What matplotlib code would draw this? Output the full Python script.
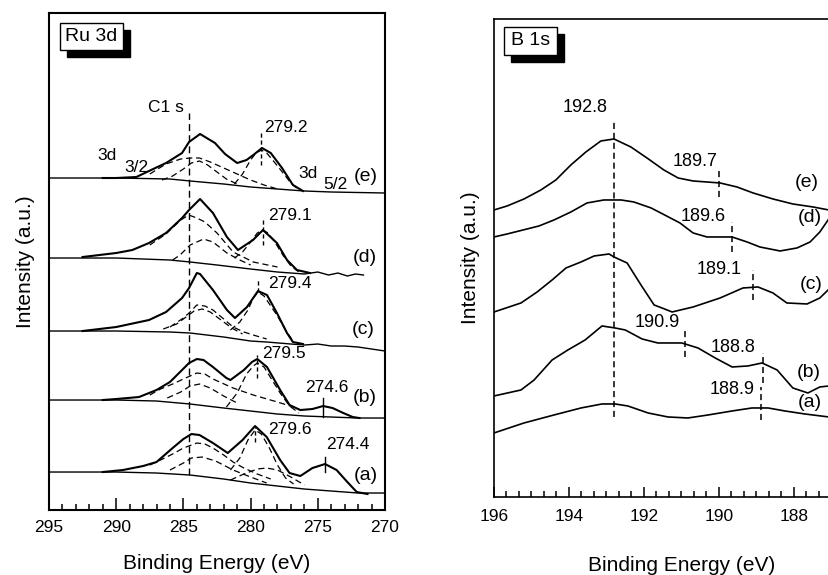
import matplotlib
matplotlib.use("Agg")
import matplotlib.pyplot as plt
from matplotlib.ticker import MultipleLocator, FixedLocator
from matplotlib.patches import Rectangle

plt.rcParams['font.family'] = ['Liberation Sans', 'DejaVu Sans']

# ---------------- Ru 3d panel (binding energy eV, intensity a.u.) ----------------
# background / raw data lines
bg_e_x = [295, 290, 286, 284.5, 282, 280, 278, 276, 274, 272, 270]
bg_e_y = [332, 332, 331, 329, 326, 323, 321, 319, 318, 317.5, 317]
env_e_x = [291.0, 290.0, 288.5, 287.56, 286.29, 285.1, 284.58, 283.76, 282.65, 281.9,
           281.0, 280.3, 279.8, 279.15, 278.5, 277.66, 276.85, 276.1]
env_e_y = [332, 332, 333, 339, 347, 357, 368, 376, 367, 356, 347, 350, 355, 362, 357, 342, 325, 319]
dA_e_x = [287.5, 286.3, 285.2, 284.5, 283.8, 283.0, 282.0, 281.0, 280.0, 279.0, 278.0]
dA_e_y = [336, 346, 351, 352, 352, 348, 342, 336, 330, 325, 321]
dB_e_x = [286.6, 285.8, 285.0, 284.4, 283.8, 283.2, 282.5, 281.8, 281.0]
dB_e_y = [330, 334, 341, 347, 349, 345, 338, 331, 326]
dC_e_x = [281.2, 280.6, 280.0, 279.6, 279.2, 278.8, 278.3, 277.7, 277.0, 276.4]
dC_e_y = [326, 336, 350, 357, 360, 357, 349, 339, 327, 320]

bg_d_x = [295, 290, 286, 284.5, 282.5, 280, 278, 276, 275, 274.2, 273.5, 272.8, 272.2, 271.6]
bg_d_y = [252, 252, 250, 248, 245, 241, 238, 236, 238, 235, 237, 234, 236, 235]
env_d_x = [292.5, 290.0, 288.8, 287.56, 286.29, 285.1, 284.58, 283.76, 282.8, 281.76,
           280.94, 279.82, 279.08, 278.04, 277.29, 276.55, 275.58]
env_d_y = [253, 257, 260, 267, 277, 292, 300, 311, 297, 273, 260, 270, 280, 267, 250, 240, 237]
dA_d_x = [287.5, 286.3, 285.2, 284.6, 284.0, 283.4, 282.5, 281.3, 279.8, 278.0]
dA_d_y = [265, 276, 290, 295, 292, 288, 277, 258, 248, 243]
dB_d_x = [285.8, 285.25, 284.5, 283.5, 282.8, 281.76, 280.8, 280.0]
dB_d_y = [250, 255, 265, 271, 268, 257, 250, 245]
dC_d_x = [281.2, 280.6, 280.0, 279.5, 279.1, 278.7, 278.2, 277.6, 277.0, 276.4]
dC_d_y = [252, 258, 268, 277, 280, 277, 268, 255, 244, 238]

bg_c_x = [295, 290, 286, 284.5, 282, 280, 278.8, 277, 276, 275, 274, 273, 272, 271, 270]
bg_c_y = [179, 179, 178, 177, 173, 169, 168, 166, 165, 166, 164, 164, 163, 161, 159]
env_c_x = [292.5, 290.0, 287.56, 286.29, 285.1, 284.58, 284.0, 283.76, 282.8, 281.76,
           281.16, 280.27, 279.45, 278.78, 278.04, 277.29, 276.85, 276.1]
env_c_y = [179, 183, 190, 198, 212, 222, 237, 236, 220, 200, 192, 203, 219, 215, 197, 177, 168, 166]
dA_c_x = [286.0, 285.0, 284.5, 284.0, 283.4, 282.8, 282.0, 281.3, 280.5, 279.8, 278.8]
dA_c_y = [183, 192, 198, 205, 204, 200, 191, 183, 178, 175, 171]
dB_c_x = [286.5, 285.5, 284.8, 284.2, 283.6, 283.0, 282.2, 281.4, 280.6]
dB_c_y = [181, 186, 193, 199, 201, 198, 190, 182, 176]
dC_c_x = [281.5, 280.8, 280.2, 279.8, 279.45, 279.0, 278.5, 278.0, 277.4, 276.8]
dC_c_y = [180, 188, 200, 212, 218, 214, 204, 194, 180, 168]

bg_b_x = [295, 290, 287, 284.5, 282, 280, 278, 276, 274, 272, 270]
bg_b_y = [110, 110, 109, 106, 102, 99, 96, 94, 93, 92, 92]
env_b_x = [291.0, 290.0, 288.3, 287.0, 286.0, 285.1, 284.58, 284.0, 283.5, 282.8, 281.8,
           281.5, 280.5, 279.9, 279.5, 278.78, 277.8, 277.1, 276.3, 275.4, 274.6, 273.9,
           273.1, 272.4, 271.9]
env_b_y = [110, 111, 113, 120, 128, 140, 147, 151, 150, 143, 132, 130, 140, 148, 151, 143,
           120, 105, 100, 101, 104, 102, 97, 93, 92]
dA_b_x = [287.5, 286.7, 285.8, 285.0, 284.0, 283.4, 282.8, 281.3, 279.8, 278.0, 276.8]
dA_b_y = [115, 121, 126, 131, 137, 136, 131, 122, 115, 108, 103]
dB_b_x = [286.2, 285.2, 284.5, 283.8, 283.0, 282.0, 281.0]
dB_b_y = [112, 118, 124, 126, 122, 114, 107]
dC_b_x = [281.8, 281.0, 280.3, 279.8, 279.5, 279.0, 278.4, 277.8, 277.1, 276.4]
dC_b_y = [103, 117, 136, 144, 147, 143, 130, 117, 104, 97]

bg_a_x = [295, 290, 287, 284.5, 282, 280, 278, 276, 274, 272, 270]
bg_a_y = [38, 38, 37, 35, 31, 27, 24, 21, 19, 17, 17]
env_a_x = [291.0, 289.5, 288.0, 287.0, 285.8, 285.0, 284.4, 283.8, 282.8, 281.7, 280.6,
           279.67, 278.8, 277.8, 277.1, 276.3, 275.4, 274.46, 273.6, 272.8, 272.1, 271.3]
env_a_y = [38, 40, 44, 48, 62, 71, 76, 75, 67, 57, 70, 84, 73, 50, 37, 34, 42, 46, 40, 28, 18, 16]
dA_a_x = [287.5, 286.7, 285.8, 285.0, 284.0, 283.4, 282.8, 282.0, 281.3, 280.5, 279.5, 278.5]
dA_a_y = [45, 50, 56, 62, 67, 66, 62, 55, 48, 42, 36, 31]
dB_a_x = [286.0, 285.0, 284.4, 283.6, 282.6, 281.3, 280.0, 278.8]
dB_a_y = [40, 47, 52, 53, 49, 40, 33, 27]
dC_a_x = [281.5, 280.8, 280.2, 279.67, 279.2, 278.6, 278.0, 277.4, 276.8]
dC_a_y = [40, 52, 70, 80, 76, 62, 45, 32, 26]
dD_a_x = [281.5, 280.5, 279.5, 278.8, 278.0, 277.0, 276.0]
dD_a_y = [30, 36, 41, 42, 40, 33, 25]

ru_labels = ["279.2", "279.1", "279.4", "279.5", "274.6", "279.6", "274.4"]
ru_label_x = [277.4, 277.1, 277.1, 277.5, 274.3, 277.1, 272.8]
ru_label_y = [383, 295, 227, 157, 123, 81, 66]
ru_mark_x = [279.2, 279.1, 279.45, 279.5, 274.6, 279.67, 274.46]
ru_mark_lo = [345, 265, 218, 132, 93, 68, 38]
ru_mark_hi = [377, 292, 230, 155, 112, 83, 53]
ru_mark_ls = ['--', '--', '--', '--', '-', '--', '-']
ru_names = ["(e)", "(d)", "(c)", "(b)", "(a)"]
ru_name_x = [271.4, 271.5, 271.6, 271.5, 271.4]
ru_name_y = [334, 253, 181, 113, 35]

# ---------------- B 1s panel ----------------
b_e_x = [196.0, 195.65, 195.2, 194.75, 194.35, 193.95, 193.55, 193.15, 192.8, 192.35, 191.92,
         191.47, 191.09, 190.69, 189.97, 189.52, 189.09, 188.56, 188.03, 187.49, 187.07, 186.8]
b_e_y = [287, 291, 298, 307, 317, 332, 345, 356, 358, 350, 339, 327, 319, 316, 314, 310, 304,
         298, 293, 290, 287, 285]
b_d_x = [196.0, 195.65, 194.8, 194.4, 193.95, 193.52, 193.07, 192.61, 192.27, 191.81, 191.5,
         191.04, 190.69, 190.32, 189.65, 189.25, 188.91, 188.37, 187.92, 187.57, 187.31, 187.09, 186.9]
b_d_y = [260, 263, 271, 277, 285, 294, 297, 297, 295, 289, 283, 274, 264, 260, 260, 255, 250,
         246, 249, 255, 265, 277, 290]
b_c_x = [196.0, 195.28, 194.85, 194.45, 194.08, 193.68, 193.33, 192.93, 192.8, 192.45, 192.08,
         191.73, 191.52, 191.25, 190.69, 189.97, 189.36, 188.96, 188.56, 188.19, 187.65, 187.31,
         187.09, 186.9]
b_c_y = [185, 194, 205, 217, 229, 235, 241, 243, 240, 234, 212, 192, 189, 185, 190, 199, 209,
         210, 204, 194, 193, 199, 207, 212]
b_b_x = [196.0, 195.28, 194.93, 194.45, 194.03, 193.57, 193.12, 192.77, 192.5, 192.05, 191.63,
         190.99, 190.56, 190.1, 189.65, 189.23, 188.85, 188.45, 188.03, 187.63, 187.31, 187.07]
b_b_y = [101, 107, 117, 137, 147, 157, 171, 169, 167, 158, 154, 154, 149, 139, 130, 131, 134,
         127, 109, 104, 110, 111]
b_a_x = [196.0, 195.2, 194.4, 193.68, 193.12, 192.77, 192.43, 191.89, 191.36, 190.83, 190.29,
         189.65, 189.12, 188.69, 188.24, 187.71, 187.07]
b_a_y = [64, 74, 82, 89, 93, 93, 91, 84, 80, 79, 82, 86, 89, 89, 86, 83, 80]

b_labels = ["192.8", "189.7", "189.6", "189.1", "190.9", "188.8", "188.9"]
b_label_x = [193.57, 190.64, 190.43, 190.0, 191.65, 189.63, 189.65]
b_label_y = [389, 335, 280, 227, 174, 149, 107]
b_mark_x = [192.8, 190.0, 189.66, 189.1, 190.91, 188.83, 188.88]
b_mark_lo = [80, 300, 245, 197, 140, 114, 77]
b_mark_hi = [377, 329, 275, 227, 169, 144, 110]
b_names = ["(e)", "(d)", "(c)", "(b)", "(a)"]
b_name_x = [187.67, 187.57, 187.55, 187.6, 187.57]
b_name_y = [314, 279, 212, 124, 94]


def title_box(ax, text, x0, y0, w, h, dx, dy):
    # black shadow box, then white framed box on top, then the text
    ax.add_patch(Rectangle((x0 + dx, y0 - dy), w, h, transform=ax.transAxes,
                           fc='black', ec='black', lw=1.0, zorder=5))
    ax.add_patch(Rectangle((x0, y0), w, h, transform=ax.transAxes,
                           fc='white', ec='black', lw=1.0, zorder=6))
    ax.text(x0 + w / 2, y0 + h / 2, text, transform=ax.transAxes, fontsize=14,
            ha='center', va='center', zorder=7)


fig = plt.figure(figsize=(8.29, 5.75), dpi=100)

# ---- left panel ----
ax1 = fig.add_axes([0.0591, 0.1130, 0.4053, 0.8644])
for bx, by in [(bg_e_x, bg_e_y), (bg_d_x, bg_d_y), (bg_c_x, bg_c_y), (bg_b_x, bg_b_y), (bg_a_x, bg_a_y)]:
    ax1.plot(bx, by, color='black', lw=1.0)
for ex, ey in [(env_e_x, env_e_y), (env_d_x, env_d_y), (env_c_x, env_c_y), (env_b_x, env_b_y), (env_a_x, env_a_y)]:
    ax1.plot(ex, ey, color='black', lw=1.5)
dashed = [(dA_e_x, dA_e_y), (dB_e_x, dB_e_y), (dC_e_x, dC_e_y),
          (dA_d_x, dA_d_y), (dB_d_x, dB_d_y), (dC_d_x, dC_d_y),
          (dA_c_x, dA_c_y), (dB_c_x, dB_c_y), (dC_c_x, dC_c_y),
          (dA_b_x, dA_b_y), (dB_b_x, dB_b_y), (dC_b_x, dC_b_y),
          (dA_a_x, dA_a_y), (dB_a_x, dB_a_y), (dC_a_x, dC_a_y), (dD_a_x, dD_a_y)]
for dx, dy in dashed:
    ax1.plot(dx, dy, color='black', lw=0.9, ls=(0, (5, 3)))

ax1.plot([284.6, 284.6], [35, 397], color='black', lw=1.0, ls=(0, (5, 3)))
ax1.text(286.3, 403, "C1 s", ha='center', va='center', fontsize=12.5)
for t, x, y in zip(ru_labels, ru_label_x, ru_label_y):
    ax1.text(x, y, t, ha='center', va='center', fontsize=12.5)
for x, lo, hi, ls in zip(ru_mark_x, ru_mark_lo, ru_mark_hi, ru_mark_ls):
    ax1.plot([x, x], [lo, hi], color='black', lw=1.0, ls=ls if ls == '-' else (0, (3, 2)))
for t, x, y in zip(ru_names, ru_name_x, ru_name_y):
    ax1.text(x, y, t, ha='center', va='center', fontsize=14)
ax1.text(290.7, 355, "3d", ha='center', va='center', fontsize=12.5)
ax1.text(288.5, 343, "3/2", ha='center', va='center', fontsize=12.5)
ax1.text(275.7, 337, "3d", ha='center', va='center', fontsize=12.5)
ax1.text(273.7, 326, "5/2", ha='center', va='center', fontsize=12.5)

ax1.set_xlim(295, 270)
ax1.set_ylim(0, 497)
ax1.set_yticks([])
ax1.xaxis.set_major_locator(FixedLocator([295, 290, 285, 280, 275, 270]))
ax1.xaxis.set_minor_locator(MultipleLocator(1))
ax1.tick_params(axis='x', which='major', direction='in', length=9, width=1.1, labelsize=12.5, pad=7)
ax1.tick_params(axis='x', which='minor', direction='in', length=4.3, width=1.1)
for s in ax1.spines.values():
    s.set_linewidth(1.5)
ax1.set_xlabel("Binding Energy (eV)", fontsize=15, labelpad=14)
ax1.set_ylabel("Intensity (a.u.)", fontsize=15, labelpad=10)
title_box(ax1, "Ru 3d", 0.033, 0.926, 0.187, 0.054, 0.021, 0.014)

# ---- right panel ----
ax2 = fig.add_axes([0.5959, 0.1357, 0.4523, 0.8313])
for bx, by in [(b_e_x, b_e_y), (b_d_x, b_d_y), (b_c_x, b_c_y), (b_b_x, b_b_y), (b_a_x, b_a_y)]:
    ax2.plot(bx, by, color='black', lw=1.2)
for x, lo, hi in zip(b_mark_x, b_mark_lo, b_mark_hi):
    ax2.plot([x, x], [lo, hi], color='black', lw=1.1, ls=(0, (4, 2.5)))
for t, x, y in zip(b_labels, b_label_x, b_label_y):
    ax2.text(x, y, t, ha='center', va='center', fontsize=13)
for t, x, y in zip(b_names, b_name_x, b_name_y):
    ax2.text(x, y, t, ha='center', va='center', fontsize=14)

ax2.set_xlim(196, 186)
ax2.set_ylim(0, 478)
ax2.set_yticks([])
ax2.xaxis.set_major_locator(FixedLocator([196, 194, 192, 190, 188]))
ax2.xaxis.set_minor_locator(MultipleLocator(1 / 3))
ax2.tick_params(axis='x', which='major', direction='in', length=7, width=1.1, labelsize=12.5, pad=9)
ax2.tick_params(axis='x', which='minor', direction='in', length=4.3, width=1.1)
for s in ax2.spines.values():
    s.set_linewidth(1.2)
ax2.set_xlabel("Binding Energy (eV)", fontsize=15, labelpad=23)
ax2.set_ylabel("Intensity (a.u.)", fontsize=15, labelpad=10)
title_box(ax2, "B 1s", 0.027, 0.925, 0.141, 0.059, 0.019, 0.015)

fig.savefig("out.png", dpi=100)
